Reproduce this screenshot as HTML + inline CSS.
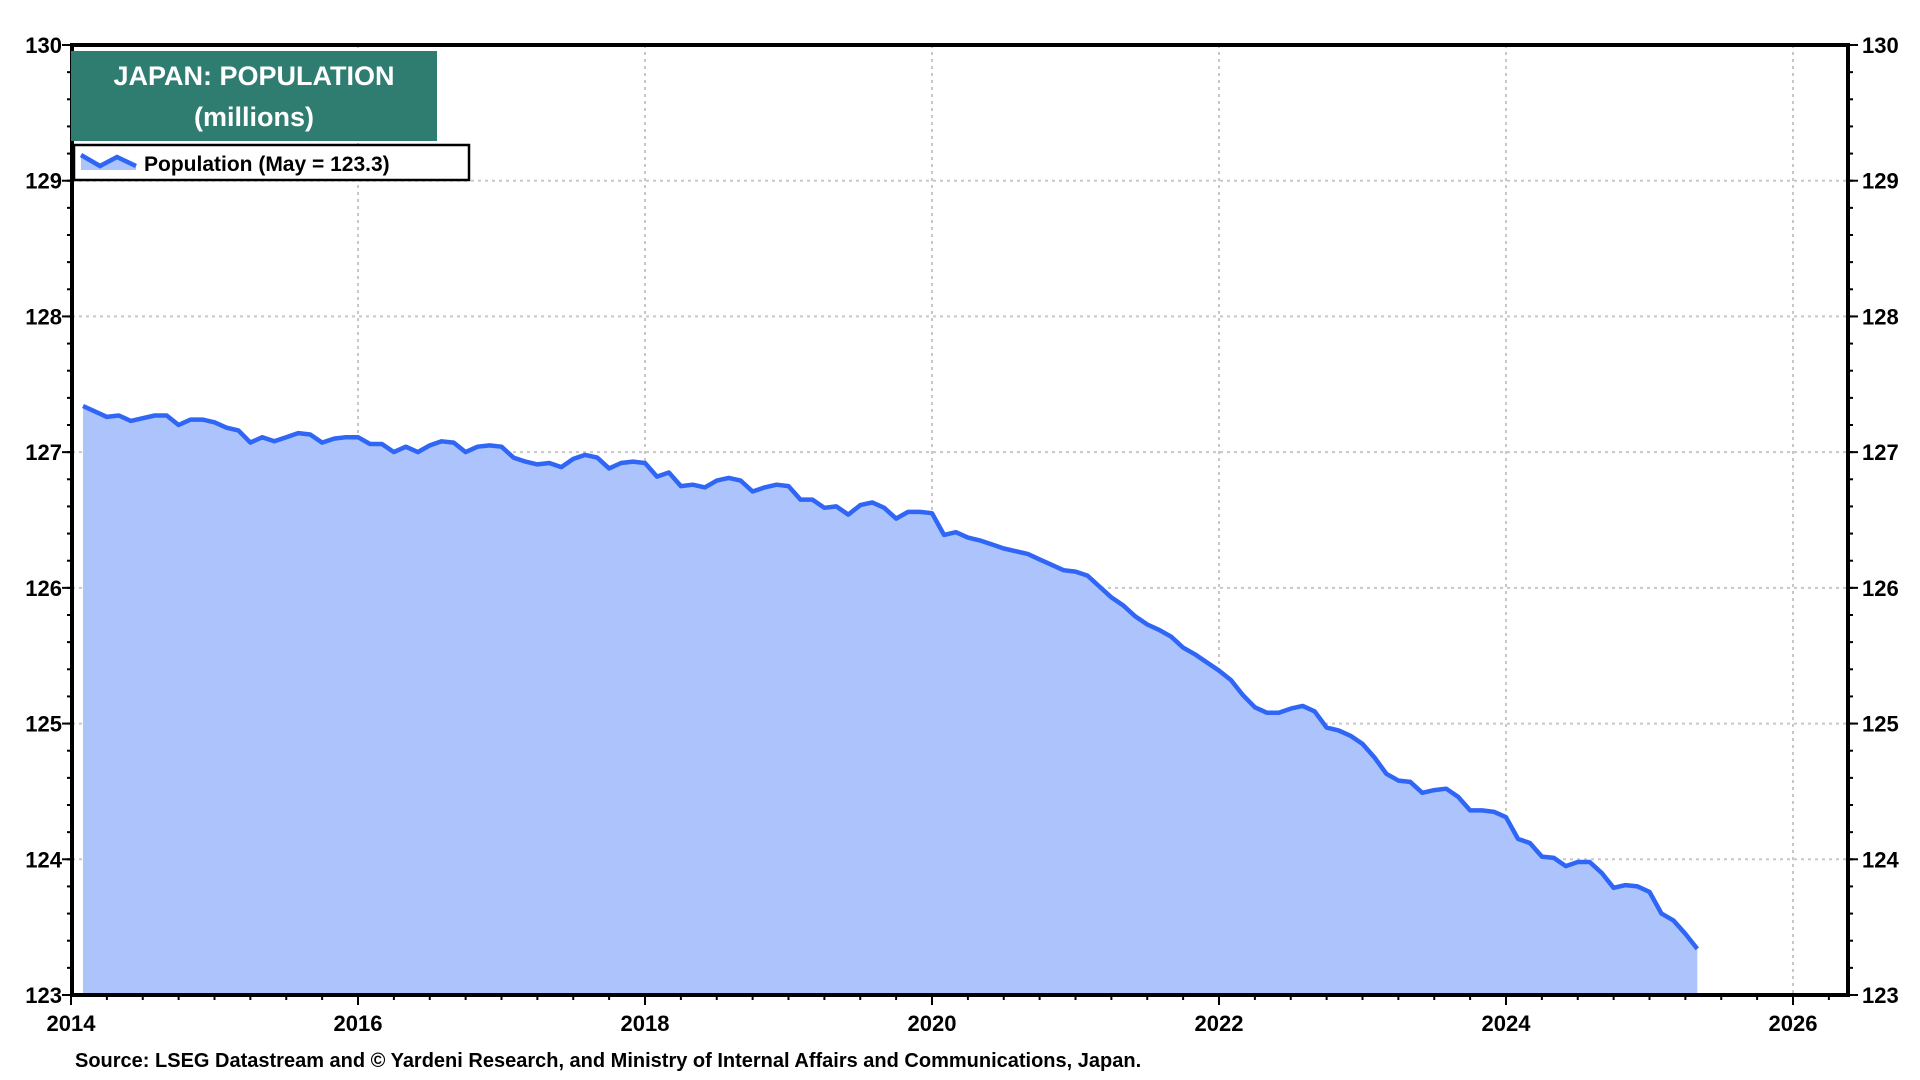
<!DOCTYPE html>
<html><head><meta charset="utf-8"><style>
body{margin:0;background:#fff;}
svg{display:block;font-family:"Liberation Sans",Arial,sans-serif;}
</style></head><body>
<svg id="chart" width="1920" height="1080" viewBox="0 0 1920 1080">
<g id="grid"></g>
<path id="area" fill="#adc3fb" stroke="none"/>
<path id="line" fill="none" stroke="#2f66f5" stroke-width="4.5" stroke-linejoin="round"/>
<g id="axes"></g>
<rect x="71" y="51" width="366" height="90" fill="#2f7d70"/>
<text x="254" y="85" text-anchor="middle" fill="#fff" font-size="27" font-weight="bold">JAPAN: POPULATION</text>
<text x="254" y="126" text-anchor="middle" fill="#fff" font-size="27" font-weight="bold">(millions)</text>
<g>
<rect x="74" y="145" width="395" height="35" fill="#fff" stroke="#000" stroke-width="2.5"/>
<path d="M81,155 L100,166 L117,157 L136,166 L136,170 L81,170 Z" fill="#adc3fb"/>
<path d="M81,155 L100,166 L117,157 L136,166" fill="none" stroke="#2f66f5" stroke-width="4.5"/>
<text x="144" y="171" font-size="21" font-weight="bold" fill="#000">Population (May = 123.3)</text>
</g>
<text x="75" y="1067" font-size="20" font-weight="bold" fill="#000">Source: LSEG Datastream and © Yardeni Research, and Ministry of Internal Affairs and Communications, Japan.</text>
</svg>
<script>
const startYear = 2014, startMonth = 2;
const population = [
127.34,127.30,127.26,127.27,127.23,127.25,127.27,127.27,127.20,127.24,127.24,
127.22,127.18,127.16,127.07,127.11,127.08,127.11,127.14,127.13,127.07,127.10,127.11,
127.11,127.06,127.06,127.00,127.04,127.00,127.05,127.08,127.07,127.00,127.04,127.05,
127.04,126.96,126.93,126.91,126.92,126.89,126.95,126.98,126.96,126.88,126.92,126.93,
126.92,126.82,126.85,126.75,126.76,126.74,126.79,126.81,126.79,126.71,126.74,126.76,
126.75,126.65,126.65,126.59,126.60,126.54,126.61,126.63,126.59,126.51,126.56,126.56,
126.55,126.39,126.41,126.37,126.35,126.32,126.29,126.27,126.25,126.21,126.17,126.13,
126.12,126.09,126.01,125.93,125.87,125.79,125.73,125.69,125.64,125.56,125.51,125.45,
125.39,125.32,125.21,125.12,125.08,125.08,125.11,125.13,125.09,124.97,124.95,124.91,
124.85,124.75,124.63,124.58,124.57,124.49,124.51,124.52,124.46,124.36,124.36,124.35,
124.31,124.15,124.12,124.02,124.01,123.95,123.98,123.98,123.90,123.79,123.81,123.80,
123.76,123.60,123.55,123.45,123.34
];
const yTicks = [123,124,125,126,127,128,129,130];
const xTicks = [2014,2016,2018,2020,2022,2024,2026];

const L=72, R=1848, T=45, B=995;
const X0=71, X1=1793, Y0=123, Y1=130;
const xs = t => X0 + (t-2014)*(X1-X0)/(2026-2014);
const ys = v => B - (v-Y0)*(B-T)/(Y1-Y0);
const NS="http://www.w3.org/2000/svg";
function mk(tag, attrs, parent){const e=document.createElementNS(NS,tag);for(const k in attrs)e.setAttribute(k,attrs[k]);parent.appendChild(e);return e;}

const grid=document.getElementById('grid'), axes=document.getElementById('axes');
yTicks.forEach(v=>{
  const y=ys(v);
  if(v>Y0&&v<Y1){const g=mk('line',{x1:L,x2:R,y1:y,y2:y,stroke:'#c8c8c8','stroke-width':2,'stroke-dasharray':'3,4'},grid);
  
  }
  const t1=mk('text',{x:L-10,y:y+8,'text-anchor':'end','font-size':22,'font-weight':'bold'},axes);t1.textContent=v;
  
  
  const t2=mk('text',{x:R+14,y:y+8,'font-size':22,'font-weight':'bold'},axes);t2.textContent=v;
  
  
  mk('line',{x1:L-10,x2:L,y1:y,y2:y,stroke:'#000','stroke-width':2},axes);
  mk('line',{x1:R,x2:R+10,y1:y,y2:y,stroke:'#000','stroke-width':2},axes);
});
for(let v=Y0;v<Y1;v+=0.2){const y=ys(v);
  mk('line',{x1:L-5,x2:L,y1:y,y2:y,stroke:'#000','stroke-width':2},axes);
  mk('line',{x1:R,x2:R+5,y1:y,y2:y,stroke:'#000','stroke-width':2},axes);}
xTicks.forEach(v=>{
  const x=xs(v);
  if(v>2014){const g=mk('line',{x1:x,x2:x,y1:T,y2:B,stroke:'#c8c8c8','stroke-width':2,'stroke-dasharray':'3,4'},grid);
  
  }
  const t=mk('text',{x:x,y:B+36,'text-anchor':'middle','font-size':22,'font-weight':'bold'},axes);t.textContent=v;
  
  
  mk('line',{x1:x,x2:x,y1:B,y2:B+10,stroke:'#000','stroke-width':2},axes);
});
for(let t=2014;t<2026.5;t+=0.25){const x=xs(t);if(x<R)mk('line',{x1:x,x2:x,y1:B,y2:B+5,stroke:'#000','stroke-width':2},axes);}
const frame=mk('rect',{x:L,y:T,width:R-L,height:B-T,fill:'none',stroke:'#000','stroke-width':4},axes);



const pts=population.map((v,i)=>[xs(startYear+(startMonth-1+i)/12),ys(v)]);
const d=pts.map((p,i)=>(i?'L':'M')+p[0].toFixed(1)+','+p[1].toFixed(1)).join(' ');
document.getElementById('line').setAttribute('d',d);
document.getElementById('area').setAttribute('d',d+` L${pts[pts.length-1][0].toFixed(1)},${B} L${pts[0][0].toFixed(1)},${B} Z`);
</script>
</body></html>
